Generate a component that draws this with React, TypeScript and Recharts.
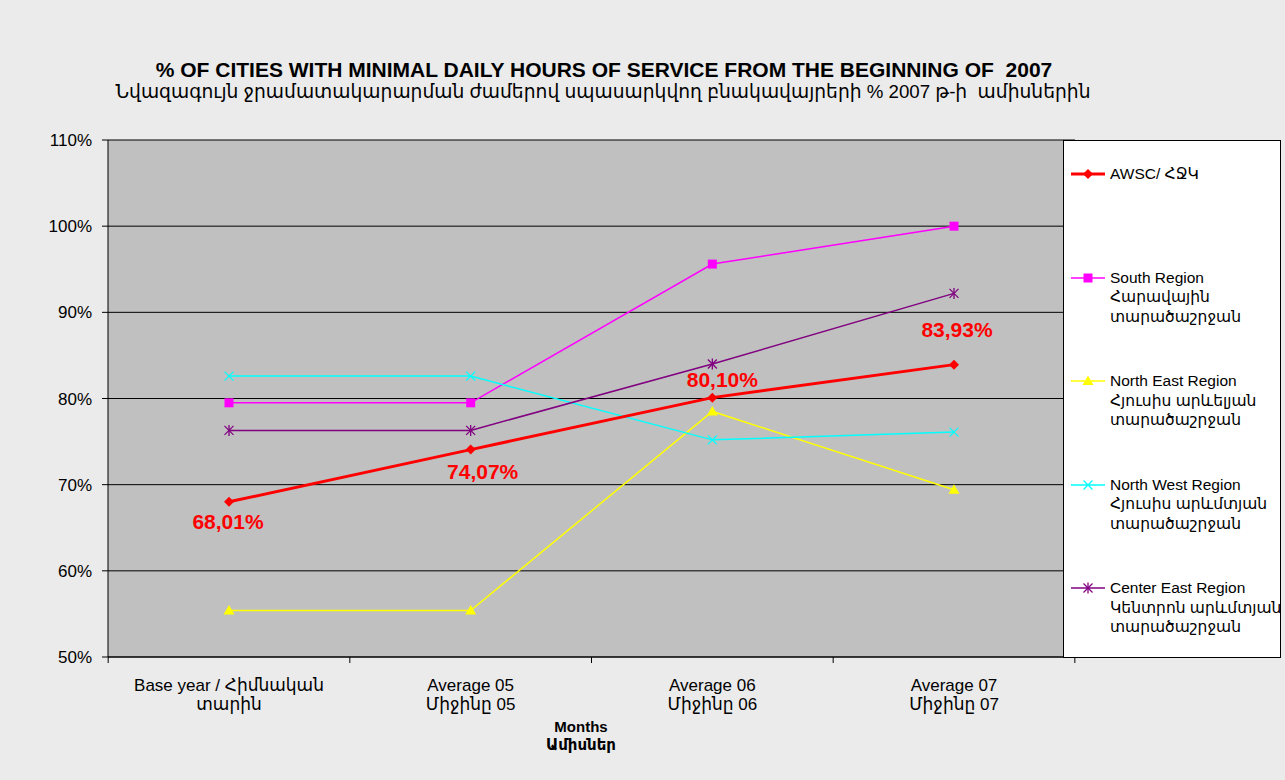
import React from "react";
import { LineChart, Line, XAxis, YAxis, CartesianGrid, LabelList } from "recharts";

const categories: string[][] = [
  ["Base year / Հիմնական", "տարին"],
  ["Average 05", "Միջինը 05"],
  ["Average 06", "Միջինը 06"],
  ["Average 07", "Միջինը 07"],
];
const awsc = [68.01, 74.07, 80.1, 83.93];
const south = [79.5, 79.5, 95.6, 100];
const northEast = [55.4, 55.4, 78.5, 69.4];
const northWest = [82.6, 82.6, 75.2, 76.1];
const centerEast = [76.3, 76.3, 84.0, 92.2];
const yTicks = [50, 60, 70, 80, 90, 100, 110];

const titleText = "% OF CITIES WITH MINIMAL DAILY HOURS OF SERVICE FROM THE BEGINNING OF  2007";
const subtitleText = "Նվազագույն ջրամատակարարման ժամերով սպասարկվող բնակավայրերի % 2007 թ-ի  ամիսներին";
const xTitle = ["Months", "Ամիսներ"];

type Series = { key: string; values: number[]; color: string; width: number; marker: string; label: string[] };
const series: Series[] = [
  { key: "awsc", values: awsc, color: "#ff0000", width: 3, marker: "diamond", label: ["AWSC/ ՀՋԿ"] },
  { key: "south", values: south, color: "#ff00ff", width: 1.5, marker: "square", label: ["South Region", "Հարավային", "տարածաշրջան"] },
  { key: "northEast", values: northEast, color: "#ffff00", width: 1.5, marker: "triangle", label: ["North East Region", "Հյուսիս արևելյան", "տարածաշրջան"] },
  { key: "northWest", values: northWest, color: "#00ffff", width: 1.5, marker: "x", label: ["North West Region", "Հյուսիս արևմտյան", "տարածաշրջան"] },
  { key: "centerEast", values: centerEast, color: "#800080", width: 1.5, marker: "star", label: ["Center East Region", "Կենտրոն արևմտյան", "տարածաշրջան"] },
];

const data = categories.map((c, i) => {
  const row: any = { cat: c.join("\n") };
  series.forEach((s) => (row[s.key] = s.values[i]));
  return row;
});

const FONT = "'Liberation Sans', Arial, 'DejaVu Sans', sans-serif";
const W = 1285;
const H = 780;
const M = { top: 140, right: 210, bottom: 0, left: 0 };
const Y_W = 108;
const X_H = 123;
const PLOT_W = W - M.left - M.right - Y_W;
const PAD = 121;
const HALF_STEP = (PLOT_W - 2 * PAD) / (categories.length - 1) / 2;

function markerShape(type: string, cx: number, cy: number, color: string, key?: any) {
  const s = 4.5;
  switch (type) {
    case "diamond":
      return <path key={key} d={`M${cx},${cy - 5} L${cx + 5},${cy} L${cx},${cy + 5} L${cx - 5},${cy} Z`} fill={color} />;
    case "square":
      return <rect key={key} x={cx - s} y={cy - s} width={2 * s} height={2 * s} fill={color} />;
    case "triangle":
      return <path key={key} d={`M${cx},${cy - 5.5} L${cx + 5.5},${cy + 4} L${cx - 5.5},${cy + 4} Z`} fill={color} />;
    case "x":
      return (
        <g key={key} stroke={color} strokeWidth={1.3}>
          <line x1={cx - s} y1={cy - s} x2={cx + s} y2={cy + s} />
          <line x1={cx - s} y1={cy + s} x2={cx + s} y2={cy - s} />
        </g>
      );
    case "star":
      return (
        <g key={key} stroke={color} strokeWidth={1.3}>
          <line x1={cx - s} y1={cy - s} x2={cx + s} y2={cy + s} />
          <line x1={cx - s} y1={cy + s} x2={cx + s} y2={cy - s} />
          <line x1={cx} y1={cy - s - 1} x2={cx} y2={cy + s + 1} />
        </g>
      );
    default:
      return <g key={key} />;
  }
}

const labelOffsets = [
  { dx: -1, dy: 27 },
  { dx: 12, dy: 29 },
  { dx: 10, dy: -11 },
  { dx: 3, dy: -28 },
];

const renderAwscLabel = (props: any) => {
  const { x, y, value, index } = props;
  const o = labelOffsets[index] || { dx: 0, dy: -10 };
  const txt = Number(value).toFixed(2).replace(".", ",") + "%";
  return (
    <text key={`lbl-${index}`} x={x + o.dx} y={y + o.dy} textAnchor="middle" fill="#ff0000" fontWeight="bold" fontSize={21} fontFamily={FONT}>
      {txt}
    </text>
  );
};

const XTick = (props: any) => {
  const { x, y, payload, index } = props;
  const lines = String(payload.value).split("\n");
  return (
    <g>
      <line x1={x - HALF_STEP} y1={y - 8} x2={x - HALF_STEP} y2={y - 2} stroke="#000" />
      {index === categories.length - 1 && <line x1={x + HALF_STEP} y1={y - 8} x2={x + HALF_STEP} y2={y - 2} stroke="#000" />}
      <text x={x} y={y + 26} textAnchor="middle" fontSize={17} fill="#000" fontFamily={FONT}>
        {lines.map((l, i) => (
          <tspan key={i} x={x} dy={i === 0 ? 0 : 19}>
            {l}
          </tspan>
        ))}
      </text>
    </g>
  );
};

function LegendBox() {
  const itemH = 103.5;
  return (
    <div
      style={{
        position: "absolute",
        left: 1063,
        top: 140,
        width: 216,
        height: 516,
        background: "#fff",
        border: "1px solid #000",
        fontFamily: FONT,
        fontSize: 15.5,
        color: "#000",
      }}
    >
      {series.map((s, i) => (
        <div key={s.key} style={{ position: "absolute", left: 6, top: 23 + i * itemH, display: "flex", alignItems: "flex-start" }}>
          <svg width={36} height={20} style={{ flex: "none" }}>
            <line x1={1} y1={10} x2={35} y2={10} stroke={s.color} strokeWidth={s.key === "awsc" ? 3 : 1.5} />
            {markerShape(s.marker, 18, 10, s.color)}
          </svg>
          <div style={{ marginLeft: 4, lineHeight: "19.5px", whiteSpace: "nowrap" }}>
            {s.label.map((l, j) => (
              <div key={j}>{l}</div>
            ))}
          </div>
        </div>
      ))}
    </div>
  );
}

export default function App() {
  const drawOrder = [...series.slice(1), series[0]];
  return (
    <div style={{ position: "absolute", left: 0, top: 0, width: W, height: H, background: "#ebebeb", overflow: "hidden" }}>
      <LineChart width={W} height={H} data={data} margin={M}>
        <CartesianGrid vertical={false} stroke="#000" fill="#c0c0c0" fillOpacity={1} />
        <XAxis
          dataKey="cat"
          type="category"
          padding={{ left: PAD, right: PAD }}
          height={X_H}
          axisLine={{ stroke: "#000" }}
          tickLine={false}
          interval={0}
          tick={<XTick />}
        />
        <YAxis
          domain={[50, 110]}
          ticks={yTicks}
          width={Y_W}
          tickFormatter={(v: number) => `${v}%`}
          axisLine={{ stroke: "#000" }}
          tickLine={{ stroke: "#000" }}
          tickSize={6}
          tickMargin={10}
          tick={{ fill: "#000", fontSize: 17, fontFamily: FONT }}
          allowDataOverflow
        />
        {drawOrder.map((s) => (
          <Line
            key={s.key}
            dataKey={s.key}
            name={s.label.join(" ")}
            stroke={s.color}
            strokeWidth={s.width}
            type="linear"
            isAnimationActive={false}
            dot={(p: any) => markerShape(s.marker, p.cx, p.cy, s.color, `${s.key}-${p.index}`)}
            activeDot={false}
          >
            {s.key === "awsc" && <LabelList dataKey="awsc" content={renderAwscLabel} />}
          </Line>
        ))}
      </LineChart>
      <div style={{ position: "absolute", left: 0, top: 58, width: 1208, textAlign: "center", fontFamily: FONT, fontSize: 21, fontWeight: "bold", color: "#000", whiteSpace: "pre" }}>
        {titleText}
      </div>
      <div style={{ position: "absolute", left: 0, top: 81, width: 1206, textAlign: "center", fontFamily: FONT, fontSize: 18.7, color: "#000", whiteSpace: "pre" }}>
        {subtitleText}
      </div>
      <div style={{ position: "absolute", left: 481, top: 718, width: 200, textAlign: "center", fontFamily: FONT, fontSize: 15, fontWeight: "bold", lineHeight: "18px", color: "#000" }}>
        {xTitle.map((t, i) => (
          <div key={i}>{t}</div>
        ))}
      </div>
      <LegendBox />
    </div>
  );
}
